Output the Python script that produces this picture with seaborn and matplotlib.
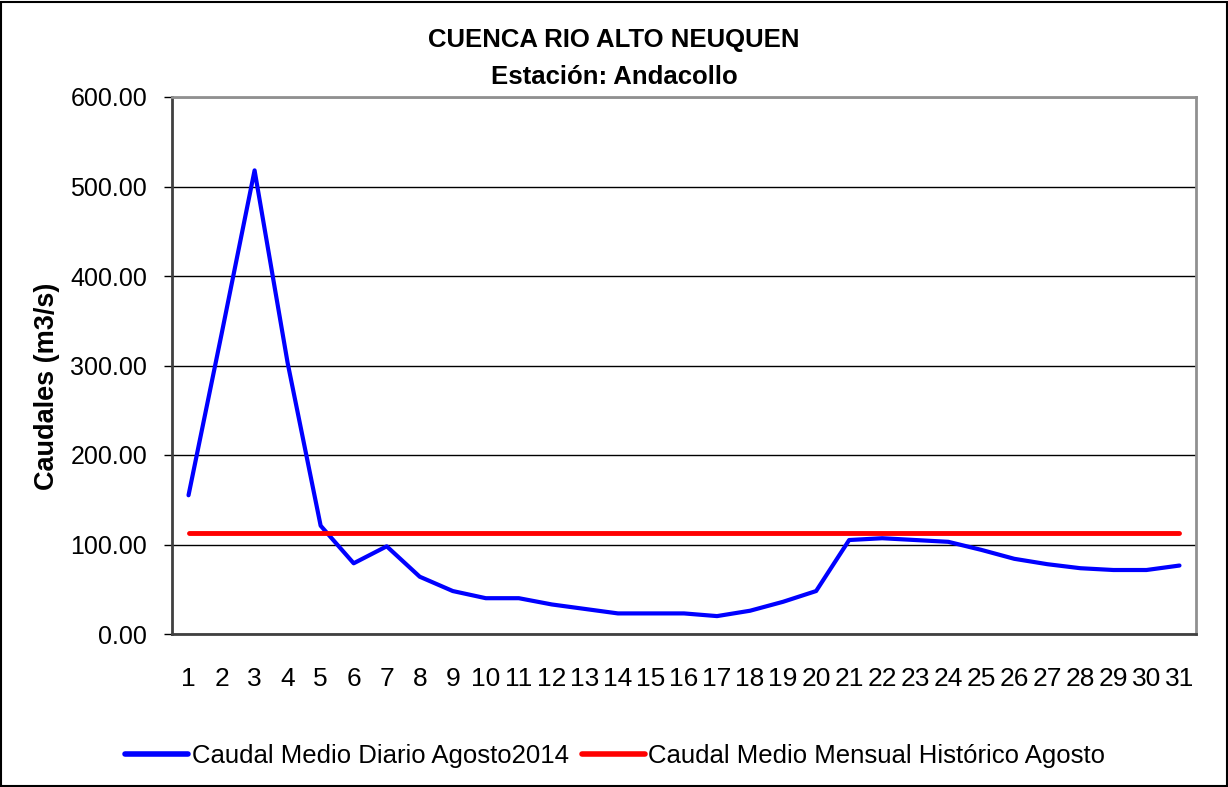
import pandas as pd
import seaborn as sns
import matplotlib.pyplot as plt
from matplotlib.lines import Line2D
from matplotlib.patches import Rectangle

# datos
dias = list(range(1, 32))
caudal_diario = [155, 335, 518, 303, 121, 79, 98, 64, 48, 40,
                 40, 33, 28, 23, 23, 23, 20, 26, 36, 48,
                 105, 107, 105, 103, 94, 84, 78, 73.5, 71.5, 71.5, 76.5]
caudal_historico = [112.5] * 31
serie_diaria = "Caudal Medio Diario Agosto2014"
serie_historica = "Caudal Medio Mensual Histórico Agosto"

df = pd.DataFrame({"dia": dias, "diario": caudal_diario, "historico": caudal_historico})

sns.set_style("white")
plt.rcParams["font.family"] = ["Liberation Sans", "DejaVu Sans"]
plt.rcParams["text.color"] = "black"
plt.rcParams["xtick.color"] = "black"
plt.rcParams["ytick.color"] = "black"
plt.rcParams["axes.labelcolor"] = "black"

fig = plt.figure(figsize=(12.28, 7.87), dpi=100)
ax = fig.add_axes([172 / 1228, 1 - 634 / 787, 1024 / 1228, 537 / 787])

sns.lineplot(data=df, x="dia", y="diario", color="#0000ff", lw=3, ax=ax)
sns.lineplot(data=df, x="dia", y="historico", color="#ff0000", lw=3.5, ax=ax)

ax.set_xlim(0.5, 31.5)
ax.set_ylim(0, 600)
ax.set_yticks(range(0, 601, 100))
ax.set_yticklabels([f"{v:.2f}" for v in range(0, 601, 100)], fontsize=18)
ax.set_xticks(dias)
ax.set_xticklabels([str(d) for d in dias], fontsize=19)
ax.set_xticks([d + 0.5 for d in range(0, 32)], minor=True)
ax.tick_params(axis="x", which="major", length=0, pad=24)
ax.tick_params(axis="x", which="minor", length=7, width=1, color="black", direction="out")
ax.tick_params(axis="y", length=6, width=1, color="black", direction="out", left=True, pad=12)
ax.grid(axis="y", color="black", lw=1)
ax.set_axisbelow(True)
for s in ["top", "right"]:
    ax.spines[s].set_color("#909090")
    ax.spines[s].set_linewidth(2)
for s in ["left", "bottom"]:
    ax.spines[s].set_color("#404040")
    ax.spines[s].set_linewidth(2)

ax.set_xlabel("")
ax.set_ylabel("Caudales (m3/s)", fontsize=19.5, fontweight="bold")
ax.yaxis.set_label_coords(-112 / 1024, 0.462)

fig.text(0.5, 1 - 40 / 787, "CUENCA RIO ALTO NEUQUEN", ha="center", va="center",
         fontsize=18.5, fontweight="bold")
fig.text(0.5, 1 - 77 / 787, "Estación: Andacollo", ha="center", va="center",
         fontsize=18.5, fontweight="bold")

handles = [Line2D([], [], color="#0000ff", lw=4), Line2D([], [], color="#ff0000", lw=4)]
fig.legend(handles, [serie_diaria, serie_historica], loc="center",
           bbox_to_anchor=(0.501, 1 - 756 / 787), ncol=2, frameon=False,
           fontsize=18.5, handlelength=2.45, handletextpad=0.15, columnspacing=0.5)

fig.patches.append(Rectangle((0.001, 0.001), 0.998, 0.997, transform=fig.transFigure,
                             fill=False, edgecolor="black", lw=1.5))

fig.savefig("out.png", dpi=100)
